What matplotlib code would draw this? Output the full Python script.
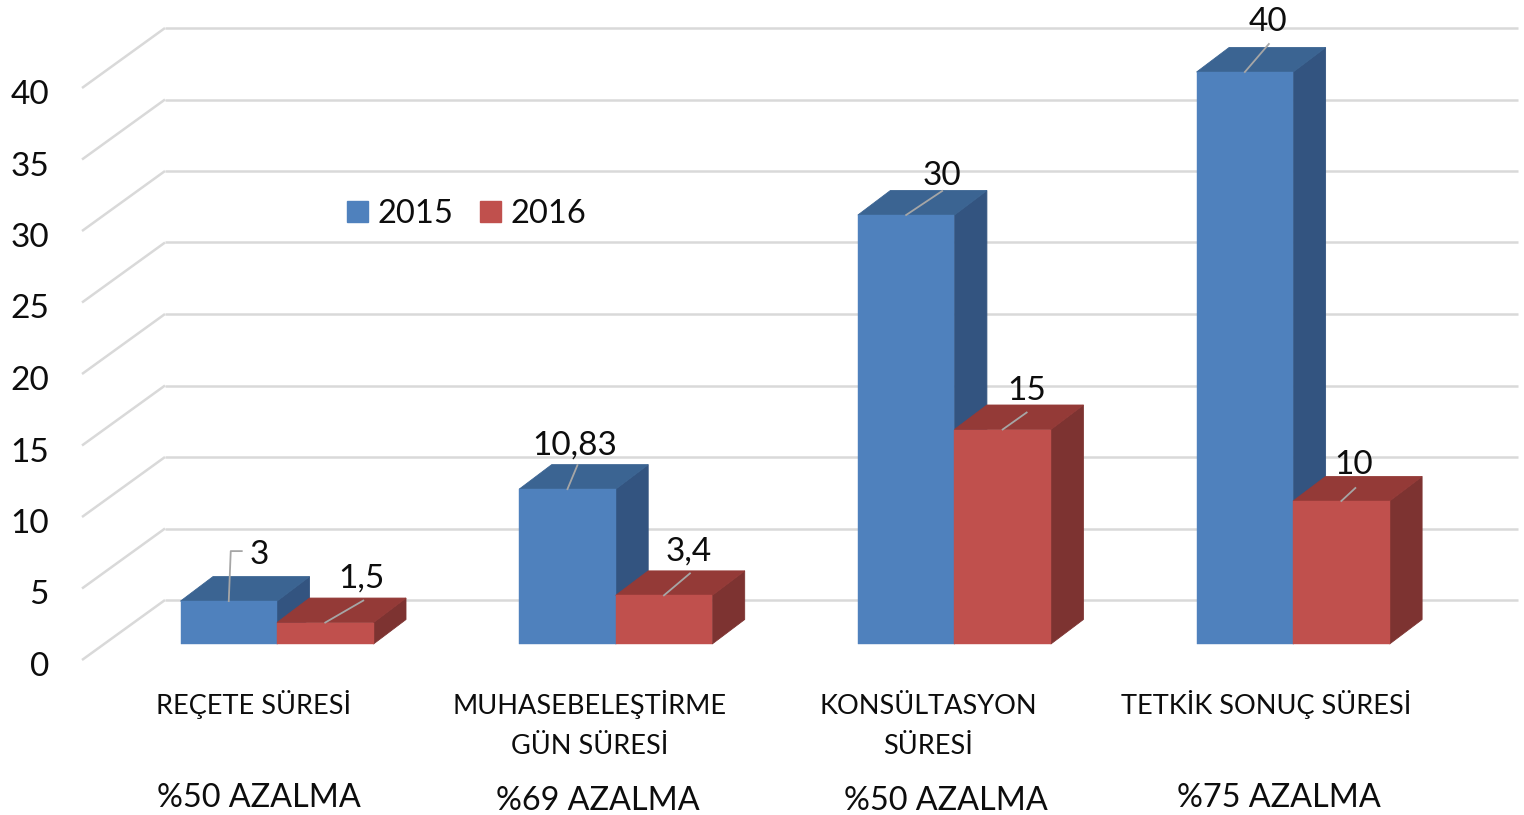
import matplotlib
matplotlib.use("Agg")
import matplotlib.pyplot as plt
from matplotlib.patches import Polygon

categories = ["REÇETE SÜRESİ", "MUHASEBELEŞTİRME\nGÜN SÜRESİ", "KONSÜLTASYON\nSÜRESİ", "TETKİK SONUÇ SÜRESİ"]
reductions = ["%50 AZALMA", "%69 AZALMA", "%50 AZALMA", "%75 AZALMA"]
values_2015 = [3, 10.83, 30, 40]
values_2016 = [1.5, 3.4, 15, 10]
labels_2015 = ["3", "10,83", "30", "40"]
labels_2016 = ["1,5", "3,4", "15", "10"]
y_ticks = [0, 5, 10, 15, 20, 25, 30, 35, 40]

plt.rcParams["font.family"] = ["Lato", "DejaVu Sans"]

# one data unit on y is 14.3 px, one category is 338.7 px
PX_X = 338.7
PX_Y = 14.3
TEXT = "#0D0D0D"

fig = plt.figure(figsize=(15.24, 8.15), dpi=100)
ax = fig.add_axes([0, 0, 1, 1])
ax.set_xlim(-277 / PX_X, (1524 - 277) / PX_X)
ax.set_ylim((660 - 815) / PX_Y, 660 / PX_Y)
ax.axis("off")

# walls
wall_dx = 83 / PX_X
wall_dy = 60 / PX_Y
wall_left = -195 / PX_X
wall_right = 1241 / PX_X
for t in y_ticks:
    ax.plot([wall_left, wall_left + wall_dx], [t, t + wall_dy], color="#D9D9D9", lw=1.8, zorder=1,
            solid_capstyle="butt")
    ax.plot([wall_left + wall_dx, wall_right], [t + wall_dy, t + wall_dy], color="#D9D9D9", lw=1.8, zorder=1,
            solid_capstyle="butt")
    ax.text(-228 / PX_X, t - 7 / PX_Y, str(t), fontsize=24, ha="right", va="center", color=TEXT)

# bars
bar_w = 96.5 / PX_X
depth_x = 32.5 / PX_X
depth_y = 24.5 / PX_Y
floor = 16 / PX_Y


def draw_bar(x, val, front, top, side, z):
    h = floor + val
    ax.add_patch(Polygon([(x + bar_w, floor), (x + bar_w + depth_x, floor + depth_y),
                          (x + bar_w + depth_x, h + depth_y), (x + bar_w, h)],
                         facecolor=side, edgecolor=side, lw=0.6, zorder=z))
    ax.add_patch(Polygon([(x, h), (x + depth_x, h + depth_y), (x + bar_w + depth_x, h + depth_y),
                          (x + bar_w, h)], facecolor=top, edgecolor=top, lw=0.6, zorder=z))
    ax.add_patch(Polygon([(x, floor), (x + bar_w, floor), (x + bar_w, h), (x, h)],
                         facecolor=front, edgecolor=front, lw=0.3, zorder=z + 1))


for i in range(len(categories)):
    draw_bar(i - bar_w, values_2015[i], "#4F81BD", "#3B6492", "#335480", 3)
    draw_bar(i, values_2016[i], "#C0504D", "#943A37", "#7D3331", 5)

# value labels and leader lines, all offsets in px from the middle of the bar top
leader_2015 = [(0, 0), (10, 24), (36, 24), (24, 28)]
leader_2016 = [(38, 22), (26, 22), (24, 17), (14, 13)]
label_off_2015 = [(31, 46), (7, 44), (36, 39), (23, 50)]
label_off_2016 = [(36, 44), (25, 44), (24, 38), (12, 36)]
for i in range(len(categories)):
    top_a = floor + values_2015[i]
    top_b = floor + values_2016[i]
    xa = i - bar_w / 2
    xb = i + bar_w / 2
    if i == 0:
        ax.plot([xa, xa + 2 / PX_X, xa + 13 / PX_X], [top_a, top_a + 50 / PX_Y, top_a + 50 / PX_Y],
                color="#A6A6A6", lw=1.3, zorder=8)
    else:
        ax.plot([xa, xa + leader_2015[i][0] / PX_X], [top_a, top_a + leader_2015[i][1] / PX_Y],
                color="#A6A6A6", lw=1.3, zorder=8)
    ax.plot([xb, xb + leader_2016[i][0] / PX_X], [top_b, top_b + leader_2016[i][1] / PX_Y],
            color="#A6A6A6", lw=1.3, zorder=8)
    ax.text(xa + label_off_2015[i][0] / PX_X, top_a + label_off_2015[i][1] / PX_Y, labels_2015[i],
            fontsize=24, ha="center", va="center", color=TEXT, zorder=9)
    ax.text(xb + label_off_2016[i][0] / PX_X, top_b + label_off_2016[i][1] / PX_Y, labels_2016[i],
            fontsize=24, ha="center", va="center", color=TEXT, zorder=9)

# category labels
label_px = [253, 590, 928, 1266]
reduction_px = [259, 598, 946, 1279]
reduction_py = [798, 801, 801, 798]
line_py = [714, 754]
for i, name in enumerate(categories):
    x = (label_px[i] - 277) / PX_X
    for line, py in zip(name.split("\n"), line_py):
        ax.text(x, (660 - py) / PX_Y, line, fontsize=19.5, ha="center", va="baseline", color=TEXT)
    ax.text((reduction_px[i] - 277) / PX_X, (660 - reduction_py[i]) / PX_Y, reductions[i], fontsize=23.3,
            ha="center", va="center", color=TEXT)

# legend
fig.patches.extend([
    plt.Rectangle((347 / 1524, 1 - 222 / 815), 21 / 1524, 21 / 815, color="#4F81BD", transform=fig.transFigure),
    plt.Rectangle((480 / 1524, 1 - 222 / 815), 21 / 1524, 21 / 815, color="#C0504D", transform=fig.transFigure),
])
fig.text(377.5 / 1524, 1 - 214 / 815, "2015", fontsize=23.5, va="center", color=TEXT)
fig.text(510 / 1524, 1 - 214 / 815, "2016", fontsize=23.5, va="center", color=TEXT)

fig.savefig("out.png", dpi=100)
